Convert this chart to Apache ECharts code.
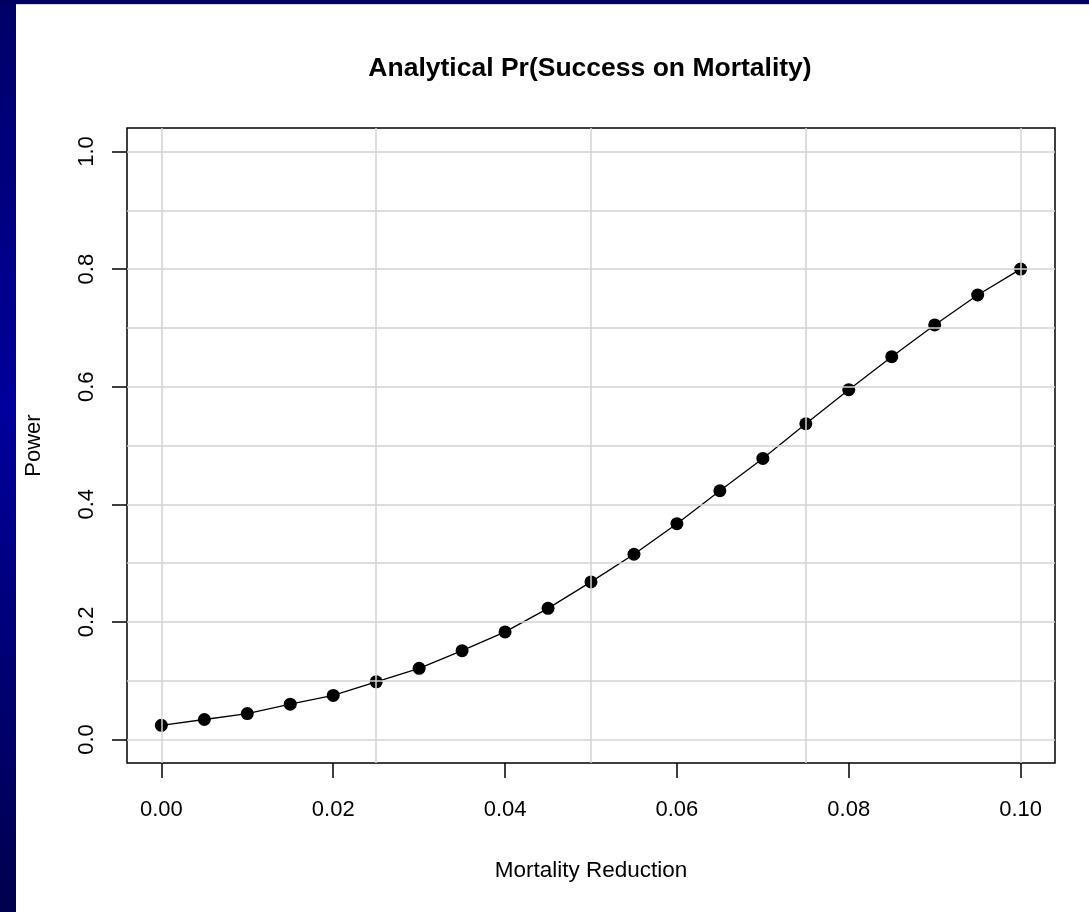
<!DOCTYPE html>
<html>
<head>
<meta charset="utf-8">
<script src="https://cdn.jsdelivr.net/npm/echarts@6/dist/echarts.min.js"></script>
<style>
  html, body { margin: 0; padding: 0; background: #ffffff; }
  #chart { width: 1089px; height: 912px; }
</style>
</head>
<body>
<div id="chart"></div>
<script>
// Mortality reduction (x) and analytical power (y)
const mortalityReduction = [0, 0.005, 0.01, 0.015, 0.02, 0.025, 0.03, 0.035, 0.04, 0.045, 0.05,
  0.055, 0.06, 0.065, 0.07, 0.075, 0.08, 0.085, 0.09, 0.095, 0.1];
const power = [0.024, 0.034, 0.044, 0.060, 0.075, 0.098, 0.121, 0.151, 0.183, 0.223, 0.268,
  0.315, 0.367, 0.423, 0.478, 0.537, 0.595, 0.651, 0.705, 0.756, 0.800];

// Axis ticks and reference grid positions
const xTicks = [0, 0.02, 0.04, 0.06, 0.08, 0.1];
const yTicks = [0, 0.2, 0.4, 0.6, 0.8, 1.0];
const xGridLines = [0, 0.025, 0.05, 0.075, 0.1];
const yGridLines = [0, 0.1, 0.2, 0.3, 0.4, 0.5, 0.6, 0.7, 0.8, 0.9, 1.0];

const titleText = 'Analytical Pr(Success on Mortality)';
const xName = 'Mortality Reduction';
const yName = 'Power';

// Plot range padded by 4% on each side
const xMin = -0.004, xMax = 0.104;
const yMin = -0.04, yMax = 1.04;

const FONT = '"Liberation Sans", Arial, sans-serif';
const chart = echarts.init(document.getElementById('chart'), null, { renderer: 'canvas' });

const tickStyle = { color: '#000', width: 1.5 };

chart.setOption({
  backgroundColor: '#ffffff',
  animation: false,
  graphic: [
    {
      type: 'rect', left: 0, top: 0, z: -10,
      shape: { width: 16, height: 912 },
      style: {
        fill: new echarts.graphic.LinearGradient(0, 0, 0, 1, [
          { offset: 0, color: '#000068' },
          { offset: 0.45, color: '#00009c' },
          { offset: 1, color: '#00004e' }
        ])
      }
    },
    {
      type: 'rect', left: 0, top: 0, z: -10,
      shape: { width: 1089, height: 4 },
      style: { fill: '#000062' }
    },
    {
      type: 'rect', left: 16, top: 4, z: -10,
      shape: { width: 1073, height: 1 },
      style: { fill: '#d4d4ec' }
    }
  ],
  title: {
    text: titleText,
    left: 585,
    textAlign: 'center',
    top: 50,
    textStyle: { fontFamily: FONT, fontWeight: 'bold', fontSize: 26.5, color: '#000' }
  },
  grid: {
    left: 127, top: 128, right: 34, bottom: 149,
    show: true, borderColor: '#000', borderWidth: 1.5, backgroundColor: 'transparent'
  },
  xAxis: [
    {
      type: 'value', min: xMin, max: xMax, position: 'bottom',
      name: xName, nameLocation: 'middle', nameGap: 96,
      nameTextStyle: { fontFamily: FONT, fontSize: 22.5, color: '#000' },
      axisLine: { show: false, onZero: false },
      axisTick: { show: true, customValues: xTicks, length: 15, inside: false, lineStyle: tickStyle },
      axisLabel: {
        customValues: xTicks, margin: 36, fontFamily: FONT, fontSize: 22, color: '#000',
        formatter: v => v.toFixed(2)
      },
      splitLine: { show: false }
    },
    {
      type: 'value', min: xMin, max: xMax, position: 'bottom', z: 5,
      axisLine: { show: false, onZero: false },
      axisTick: { show: false, customValues: xGridLines },
      axisLabel: { show: false },
      splitLine: { show: true, lineStyle: { color: '#d3d3d3', width: 1.5 } }
    }
  ],
  yAxis: [
    {
      type: 'value', min: yMin, max: yMax, position: 'left',
      name: yName, nameLocation: 'middle', nameGap: 82, nameRotate: 90,
      nameTextStyle: { fontFamily: FONT, fontSize: 22, color: '#000' },
      axisLine: { show: false, onZero: false },
      axisTick: { show: true, customValues: yTicks, length: 15, inside: false, lineStyle: tickStyle },
      axisLabel: {
        customValues: yTicks, rotate: 90, margin: 29, fontFamily: FONT, fontSize: 22, color: '#000',
        formatter: v => v.toFixed(1)
      },
      splitLine: { show: false }
    },
    {
      type: 'value', min: yMin, max: yMax, position: 'left', z: 5,
      axisLine: { show: false, onZero: false },
      axisTick: { show: false, customValues: yGridLines },
      axisLabel: { show: false },
      splitLine: { show: true, lineStyle: { color: '#d3d3d3', width: 1.5 } }
    }
  ],
  series: [
    {
      type: 'line',
      xAxisIndex: 0, yAxisIndex: 0,
      data: mortalityReduction.map((x, i) => [x, power[i]]),
      symbol: 'circle', symbolSize: 13,
      lineStyle: { color: '#000', width: 1.3 },
      itemStyle: { color: '#000' },
      z: 2
    }
  ]
});
</script>
</body>
</html>
